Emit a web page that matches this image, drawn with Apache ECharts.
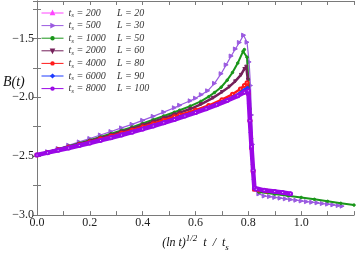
<!DOCTYPE html>
<html><head><meta charset="utf-8">
<script src="https://cdn.jsdelivr.net/npm/echarts@6/dist/echarts.min.js"></script>
<style>html,body{margin:0;padding:0;background:#fff}#c{width:357px;height:257px}</style>
</head><body><div id="c"></div>
<script>
// ---- data ----
const tsValues = [200, 500, 1000, 2000, 4000, 6000, 8000];
const LValues = [20, 30, 50, 60, 80, 90, 100];
const xTickLabels = ['0.0', '0.2', '0.4', '0.6', '0.8', '1.0'];
const yTickLabels = ['\u22123.0', '\u22122.5', '\u22122.0', '\u22121.5'];

// ts = 200 (hidden under the others)
const x200 = [0, 0.2, 0.4, 0.6, 0.76, 0.80, 0.823, 0.9];
const y200 = [-2.49, -2.39, -2.272, -2.132, -1.99, -1.95, -2.78, -2.80];

// ts = 500
const x500 = [0,0.04,0.08,0.12,0.16,0.20,0.24,0.28,0.32,0.36,0.40,0.44,0.48,0.52,0.54,0.58,0.60,0.622,0.646,0.672,0.697,0.716,0.735,0.751,0.766,0.782,0.795,0.803,0.808,0.812,0.816,0.820,0.824,0.84,0.86,0.88,0.90,0.92,0.94,0.96,0.98,1.00,1.02,1.04,1.06,1.08,1.10,1.12,1.14,1.155];
const y500 = [-2.490,-2.462,-2.435,-2.407,-2.379,-2.350,-2.320,-2.291,-2.260,-2.230,-2.196,-2.162,-2.126,-2.089,-2.068,-2.030,-2.008,-1.978,-1.945,-1.882,-1.800,-1.725,-1.650,-1.590,-1.535,-1.473,-1.533,-1.700,-1.900,-2.150,-2.400,-2.620,-2.780,-2.820,-2.838,-2.843,-2.850,-2.856,-2.862,-2.868,-2.874,-2.880,-2.886,-2.891,-2.896,-2.902,-2.907,-2.913,-2.919,-2.924];

// ts = 1000
const x1000 = [0,0.04,0.08,0.12,0.16,0.20,0.24,0.28,0.32,0.36,0.40,0.44,0.48,0.52,0.54,0.58,0.62,0.65,0.672,0.697,0.72,0.74,0.76,0.78,0.785,0.795,0.80,0.806,0.812,0.818,0.823,0.84,0.90,0.95,1.00,1.05,1.10,1.15,1.20];
const y1000 = [-2.490,-2.465,-2.440,-2.416,-2.390,-2.364,-2.337,-2.310,-2.282,-2.253,-2.222,-2.191,-2.159,-2.127,-2.110,-2.075,-2.035,-1.995,-1.960,-1.915,-1.855,-1.790,-1.710,-1.610,-1.595,-1.660,-1.850,-2.100,-2.350,-2.600,-2.780,-2.805,-2.822,-2.836,-2.850,-2.866,-2.883,-2.900,-2.915];

// ts = 2000
const x2000 = [0,0.04,0.08,0.12,0.16,0.20,0.24,0.28,0.32,0.36,0.40,0.44,0.48,0.52,0.54,0.58,0.62,0.666,0.70,0.728,0.75,0.772,0.785,0.792,0.798,0.804,0.81,0.816,0.823,0.84,0.86];
const y2000 = [-2.490,-2.467,-2.443,-2.420,-2.396,-2.371,-2.346,-2.321,-2.293,-2.266,-2.237,-2.207,-2.177,-2.146,-2.130,-2.100,-2.060,-2.005,-1.955,-1.910,-1.865,-1.810,-1.760,-1.740,-1.850,-2.100,-2.350,-2.580,-2.780,-2.790,-2.800];

// ts = 4000
const x4000 = [0,0.04,0.08,0.12,0.16,0.20,0.24,0.28,0.32,0.36,0.40,0.44,0.48,0.52,0.54,0.60,0.65,0.70,0.74,0.77,0.785,0.795,0.80,0.806,0.812,0.818,0.823,0.84,0.87];
const y4000 = [-2.490,-2.468,-2.446,-2.424,-2.402,-2.379,-2.355,-2.331,-2.305,-2.279,-2.252,-2.224,-2.195,-2.165,-2.150,-2.110,-2.070,-2.020,-1.975,-1.930,-1.900,-1.877,-1.970,-2.200,-2.430,-2.630,-2.780,-2.786,-2.795];

// ts = 6000
const x6000 = [0,0.04,0.08,0.12,0.16,0.20,0.24,0.28,0.32,0.36,0.40,0.44,0.48,0.52,0.54,0.60,0.65,0.70,0.74,0.77,0.785,0.797,0.802,0.808,0.814,0.82,0.825,0.85,0.90];
const y6000 = [-2.490,-2.469,-2.448,-2.428,-2.407,-2.385,-2.362,-2.339,-2.315,-2.290,-2.264,-2.238,-2.211,-2.181,-2.165,-2.125,-2.085,-2.040,-2.000,-1.960,-1.935,-1.918,-2.050,-2.300,-2.520,-2.700,-2.780,-2.790,-2.800];

// ts = 8000
const x8000 = [0,0.04,0.08,0.12,0.16,0.20,0.24,0.28,0.32,0.36,0.40,0.44,0.48,0.52,0.56,0.60,0.64,0.68,0.72,0.76,0.785,0.80,0.806,0.812,0.818,0.823,0.83,0.86,0.90,0.93,0.96];
const y8000 = [-2.490,-2.470,-2.450,-2.430,-2.409,-2.388,-2.366,-2.344,-2.320,-2.296,-2.270,-2.244,-2.217,-2.189,-2.160,-2.130,-2.098,-2.064,-2.028,-1.988,-1.958,-1.945,-2.200,-2.420,-2.620,-2.770,-2.780,-2.790,-2.800,-2.808,-2.818];

// ---- styles ----
const xs = [x200, x500, x1000, x2000, x4000, x6000, x8000];
const ys = [y200, y500, y1000, y2000, y4000, y6000, y8000];
const styles = [
  {color: '#ff44ff', symbol: 'triangle', rotate: 0, size: 3, width: 1},
  {color: '#9a5ae0', symbol: 'triangle', rotate: -90, size: 4, width: 1.2},
  {color: '#1a961a', symbol: 'circle', rotate: 0, size: 2.5, width: 2},
  {color: '#74205a', symbol: 'triangle', rotate: 180, size: 3, width: 2.5},
  {color: '#ff1a1a', symbol: 'emptyCircle', rotate: 0, size: 3, width: 2.5},
  {color: '#1f3cff', symbol: 'diamond', rotate: 0, size: 3, width: 2.5},
  {color: '#9a08e6', symbol: 'emptyCircle', rotate: 0, size: 3, width: 4.5}
];

const serif = 'Liberation Serif';
const names = tsValues.map(v => 't_s = ' + v);

const series = tsValues.map((ts, i) => ({
  name: names[i],
  type: 'line',
  data: xs[i].map((x, j) => [x, ys[i][j]]),
  symbol: styles[i].symbol,
  symbolRotate: styles[i].rotate,
  symbolSize: styles[i].size,
  showAllSymbol: true,
  lineStyle: {color: styles[i].color, width: styles[i].width},
  itemStyle: {color: styles[i].color, borderColor: styles[i].color, borderWidth: 1},
  silent: true,
  clip: true,
  z: 2 + i
}));

const axisGray = '#7a7a7a';
const chart = echarts.init(document.getElementById('c'), null, {renderer: 'canvas'});
chart.setOption({
  animation: false,
  backgroundColor: '#fff',
  grid: {left: 37, right: 1, top: 1, bottom: 35, containLabel: false},
  legend: {
    orient: 'vertical', left: 41, top: 8, padding: 0, itemWidth: 22, itemHeight: 3, itemGap: 1.6,
    selectedMode: false,
    data: names,
    lineStyle: {width: 1},
    formatter: function (name) {
      const i = names.indexOf(name);
      return '{t|t}{s|s}{a| = ' + tsValues[i] + '}{b|L = ' + LValues[i] + '}';
    },
    textStyle: {
      color: '#333',
      rich: {
        t: {fontFamily: serif, fontStyle: 'italic', fontSize: 10, lineHeight: 12, color: '#333'},
        s: {fontFamily: serif, fontStyle: 'italic', fontSize: 7, lineHeight: 7, verticalAlign: 'bottom', color: '#333'},
        a: {fontFamily: serif, fontStyle: 'italic', fontSize: 10, lineHeight: 12, width: 43, color: '#333'},
        b: {fontFamily: serif, fontStyle: 'italic', fontSize: 10, lineHeight: 12, color: '#333'}
      }
    }
  },
  xAxis: [{
    type: 'value', min: 0, max: 1.2, interval: 0.1, position: 'bottom',
    axisLine: {show: true, lineStyle: {color: axisGray, width: 1}},
    axisTick: {show: true, inside: true, length: 4, lineStyle: {color: axisGray}},
    splitLine: {show: false},
    axisLabel: {
      margin: 2, fontFamily: serif, fontSize: 12, color: '#222',
      showMinLabel: true, showMaxLabel: true,
      formatter: v => { const s = v.toFixed(1); return xTickLabels.includes(s) ? s : ''; }
    },
    name: '{m|(ln t)}{sup|1/2}{m|  t  /  t}{sub|s}',
    nameLocation: 'middle', nameGap: 12,
    nameTextStyle: {
      rich: {
        m: {fontFamily: serif, fontStyle: 'italic', fontSize: 12, lineHeight: 18, color: '#111'},
        sup: {fontFamily: serif, fontStyle: 'italic', fontSize: 9, lineHeight: 9, verticalAlign: 'top', color: '#111'},
        sub: {fontFamily: serif, fontStyle: 'italic', fontSize: 9, lineHeight: 9, verticalAlign: 'bottom', color: '#111'}
      }
    }
  }, {
    type: 'value', min: 0, max: 1.2, interval: 0.1, position: 'top',
    axisLine: {show: true, lineStyle: {color: axisGray, width: 1}},
    axisTick: {show: true, inside: true, length: 4, lineStyle: {color: axisGray}},
    axisLabel: {show: false}, splitLine: {show: false}
  }],
  yAxis: [{
    type: 'value', min: -3.0, max: -1.183, interval: 0.25, position: 'left',
    axisLine: {show: true, lineStyle: {color: axisGray, width: 1}},
    axisTick: {show: true, inside: true, length: 4, lineStyle: {color: axisGray}},
    splitLine: {show: false},
    axisLabel: {
      margin: 3, fontFamily: serif, fontSize: 12, color: '#222',
      showMinLabel: true, showMaxLabel: false,
      formatter: v => { const s = (v < 0 ? '\u2212' : '') + Math.abs(v).toFixed(1); return yTickLabels.includes(s) ? s : ''; }
    }
  }, {
    type: 'value', min: -3.0, max: -1.183, interval: 0.25, position: 'right',
    axisLine: {show: true, lineStyle: {color: axisGray, width: 1}},
    axisTick: {show: true, inside: true, length: 4, lineStyle: {color: axisGray}},
    axisLabel: {show: false}, splitLine: {show: false}
  }],
  graphic: [{
    type: 'text', left: 3, top: 75,
    style: {text: 'B(t)', font: 'italic 14px "Liberation Serif"', fill: '#111'}
  }],
  series: series
});
</script></body></html>
